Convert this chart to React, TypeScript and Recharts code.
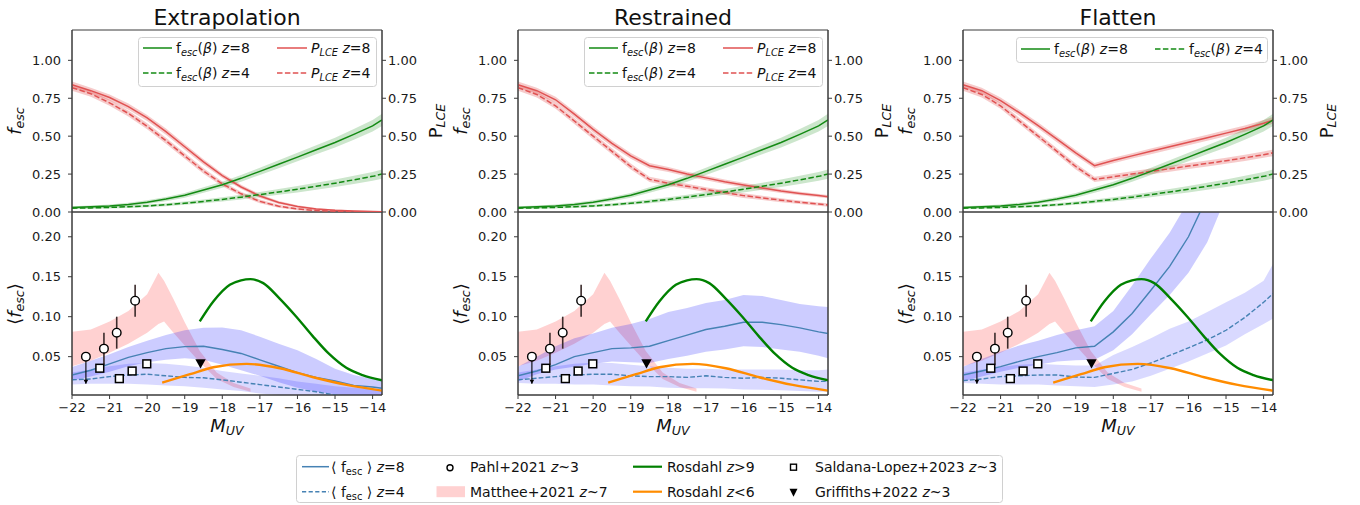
import React from 'react';
import { ComposedChart, Line, Area, Scatter, XAxis, YAxis, ErrorBar, ReferenceArea } from 'recharts';

// ---------------- DATA ----------------
const M_GRID = [-22, -21.5, -21, -20.5, -20, -19.5, -19, -18.5, -18, -17.5, -17, -16.5, -16, -15.5, -15, -14.5, -14, -13.75];

// top panels: f_esc(beta)
const FESC_Z8 = [0.03, 0.034, 0.04, 0.05, 0.065, 0.085, 0.11, 0.145, 0.18, 0.222, 0.268, 0.315, 0.362, 0.41, 0.458, 0.512, 0.568, 0.607];
const FESC_Z8_ERR = [0.008, 0.009, 0.01, 0.011, 0.012, 0.014, 0.016, 0.018, 0.02, 0.022, 0.024, 0.026, 0.028, 0.03, 0.032, 0.035, 0.038, 0.04];
const FESC_Z4 = [0.025, 0.027, 0.03, 0.035, 0.04, 0.048, 0.058, 0.07, 0.083, 0.098, 0.115, 0.132, 0.15, 0.17, 0.19, 0.212, 0.235, 0.25];
const FESC_Z4_ERR = [0.006, 0.006, 0.007, 0.008, 0.009, 0.01, 0.011, 0.012, 0.014, 0.015, 0.017, 0.019, 0.021, 0.023, 0.025, 0.027, 0.029, 0.03];

// top panels: P_LCE
const PLCE_Z8_EXTRAP = [0.84, 0.8, 0.755, 0.695, 0.62, 0.53, 0.43, 0.33, 0.24, 0.165, 0.105, 0.063, 0.037, 0.02, 0.011, 0.006, 0.003, 0.002];
const PLCE_Z4_EXTRAP = [0.82, 0.78, 0.72, 0.65, 0.565, 0.47, 0.37, 0.27, 0.185, 0.12, 0.07, 0.038, 0.02, 0.01, 0.005, 0.002, 0.001, 0.001];
const PLCE_ERR_EXTRAP = [0.02, 0.02, 0.02, 0.02, 0.02, 0.02, 0.019, 0.018, 0.016, 0.014, 0.012, 0.01, 0.008, 0.006, 0.005, 0.004, 0.003, 0.003];

const PLCE_Z8_RESTR = [0.84, 0.8, 0.74, 0.645, 0.545, 0.452, 0.37, 0.305, 0.28, 0.25, 0.225, 0.2, 0.178, 0.158, 0.138, 0.122, 0.108, 0.101];
const PLCE_Z4_RESTR = [0.82, 0.775, 0.7, 0.6, 0.5, 0.4, 0.3, 0.215, 0.19, 0.17, 0.148, 0.128, 0.108, 0.093, 0.078, 0.064, 0.052, 0.046];
const PLCE_ERR_RESTR = [0.02, 0.02, 0.02, 0.02, 0.02, 0.02, 0.019, 0.018, 0.017, 0.016, 0.016, 0.015, 0.015, 0.014, 0.013, 0.012, 0.011, 0.011];

const PLCE_Z8_FLAT = [0.84, 0.8, 0.735, 0.655, 0.57, 0.48, 0.39, 0.305, 0.34, 0.37, 0.4, 0.43, 0.46, 0.49, 0.52, 0.55, 0.585, 0.605];
const PLCE_Z4_FLAT = [0.82, 0.775, 0.7, 0.6, 0.5, 0.4, 0.3, 0.215, 0.232, 0.25, 0.268, 0.285, 0.303, 0.32, 0.338, 0.357, 0.378, 0.39];
const PLCE_ERR_FLAT = [0.02, 0.02, 0.02, 0.02, 0.02, 0.02, 0.019, 0.018, 0.018, 0.018, 0.019, 0.019, 0.02, 0.02, 0.02, 0.021, 0.021, 0.022];

// bottom panels: <f_esc> (z=8 solid, z=4 dashed) with bands
const B8_EXTRAP = [0.027, 0.033, 0.041, 0.049, 0.055, 0.06, 0.0625, 0.063, 0.059, 0.054, 0.046, 0.038, 0.03, 0.024, 0.0195, 0.014, 0.012, 0.0105];
const B8_LO_EXTRAP = [0.02, 0.025, 0.031, 0.038, 0.043, 0.046, 0.048, 0.046, 0.04, 0.033, 0.026, 0.018, 0.011, 0.006, 0.003, 0.001, 0, 0];
const B8_HI_EXTRAP = [0.037, 0.045, 0.053, 0.062, 0.07, 0.077, 0.083, 0.086, 0.0865, 0.083, 0.075, 0.066, 0.058, 0.047, 0.035, 0.027, 0.022, 0.021];
const B4_EXTRAP = [0.021, 0.022, 0.025, 0.027, 0.028, 0.026, 0.024, 0.0235, 0.021, 0.018, 0.015, 0.012, 0.009, 0.006, 0.002, 0, 0, 0];
const B4_LO_EXTRAP = [0.015, 0.016, 0.016, 0.016, 0.015, 0.014, 0.013, 0.011, 0.009, 0.007, 0.004, 0.002, 0, 0, 0, 0, 0, 0];
const B4_HI_EXTRAP = [0.03, 0.034, 0.038, 0.041, 0.042, 0.041, 0.039, 0.036, 0.032, 0.029, 0.026, 0.023, 0.019, 0.016, 0.013, 0.011, 0.009, 0.008];

const B8_RESTR = [0.026, 0.032, 0.04, 0.05, 0.055, 0.06, 0.061, 0.063, 0.07, 0.077, 0.084, 0.088, 0.093, 0.093, 0.09, 0.086, 0.081, 0.079];
const B8_LO_RESTR = [0.019, 0.028, 0.034, 0.0375, 0.041, 0.044, 0.043, 0.042, 0.047, 0.051, 0.056, 0.059, 0.063, 0.062, 0.059, 0.056, 0.051, 0.048];
const B8_HI_RESTR = [0.0375, 0.05, 0.063, 0.073, 0.079, 0.086, 0.091, 0.097, 0.106, 0.111, 0.117, 0.121, 0.127, 0.126, 0.121, 0.116, 0.113, 0.112];
const B4_RESTR = [0.021, 0.023, 0.025, 0.027, 0.028, 0.028, 0.026, 0.025, 0.025, 0.024, 0.026, 0.024, 0.023, 0.024, 0.023, 0.021, 0.019, 0.019];
const B4_LO_RESTR = [0.017, 0.016, 0.016, 0.015, 0.015, 0.014, 0.013, 0.0125, 0.011, 0.0105, 0.0105, 0.01, 0.009, 0.0085, 0.008, 0.007, 0.006, 0.006];
const B4_HI_RESTR = [0.03, 0.034, 0.038, 0.041, 0.0425, 0.042, 0.04, 0.038, 0.036, 0.035, 0.035, 0.034, 0.034, 0.034, 0.034, 0.033, 0.033, 0.034];

const B8_FLAT = [0.027, 0.032, 0.0375, 0.044, 0.05, 0.055, 0.061, 0.063, 0.081, 0.104, 0.133, 0.163, 0.2, 0.25, 0.3, 0.34, 0.38, 0.4];
const B8_LO_FLAT = [0.019, 0.025, 0.031, 0.036, 0.04, 0.044, 0.0455, 0.046, 0.058, 0.078, 0.103, 0.127, 0.155, 0.193, 0.25, 0.29, 0.33, 0.35];
const B8_HI_FLAT = [0.0375, 0.047, 0.056, 0.064, 0.07, 0.077, 0.083, 0.088, 0.107, 0.139, 0.173, 0.205, 0.245, 0.29, 0.33, 0.37, 0.41, 0.43];
const B4_FLAT = [0.02, 0.022, 0.025, 0.026, 0.027, 0.027, 0.0245, 0.024, 0.029, 0.034, 0.042, 0.0515, 0.061, 0.071, 0.083, 0.099, 0.118, 0.129];
const B4_LO_FLAT = [0.017, 0.016, 0.015, 0.015, 0.015, 0.014, 0.013, 0.012, 0.015, 0.019, 0.026, 0.035, 0.044, 0.054, 0.064, 0.078, 0.091, 0.0975];
const B4_HI_FLAT = [0.03, 0.034, 0.037, 0.04, 0.041, 0.04, 0.039, 0.039, 0.052, 0.062, 0.073, 0.085, 0.094, 0.106, 0.118, 0.13, 0.145, 0.166];

// Matthee+2021 band
const MATTHEE_M = [-22, -21.5, -21, -20.5, -20, -19.7, -19.55, -19.3, -19, -18.6, -18.15, -17.7, -17.25];
const MATTHEE_LO = [0.038, 0.045, 0.055, 0.066, 0.08, 0.091, 0.094, 0.08, 0.064, 0.043, 0.022, 0.012, 0.006];
const MATTHEE_HI = [0.081, 0.084, 0.094, 0.107, 0.128, 0.155, 0.145, 0.122, 0.093, 0.057, 0.03, 0.017, 0.01];

// Rosdahl curves
const ROS9_M = [-18.6, -18.24, -17.8, -17.5, -17.25, -16.91, -16.48, -16.03, -15.6, -15.15, -14.7, -14.27, -13.75];
const ROS9_F = [0.094, 0.119, 0.14, 0.1455, 0.147, 0.142, 0.123, 0.1, 0.076, 0.053, 0.036, 0.027, 0.0205];
const ROS6_M = [-19.6, -18.86, -18.24, -17.35, -16.47, -15.58, -14.69, -13.75];
const ROS6_F = [0.0175, 0.028, 0.0367, 0.041, 0.0355, 0.0242, 0.0146, 0.0075];

// observations
const PAHL_M = [-21.15, -20.81, -20.32];
const PAHL_F = [0.06, 0.08, 0.12];
const PAHL_ERR = [0.02, 0.02, 0.02];
const PAHL_UL_M = [-21.63];
const PAHL_UL_F = [0.05];
const PAHL_UL_TIP = [0.016];
const SALDANA_M = [-21.26, -20.74, -20.4, -20.01];
const SALDANA_F = [0.0355, 0.0225, 0.032, 0.041];
const GRIFFITHS_M = [-18.58];
const GRIFFITHS_F = [0.041];

// axes
const X_TICKS = [-22, -21, -20, -19, -18, -17, -16, -15, -14];
const X_DOMAIN = [-22, -13.75];
const TOP_Y_TICKS = [0, 0.25, 0.5, 0.75, 1.0];
const TOP_Y_DOMAIN = [0, 1.2];
const BOT_Y_TICKS = [0.05, 0.1, 0.15, 0.2];
const BOT_Y_DOMAIN = [0.002, 0.231];
const PANEL_TITLES = ['Extrapolation', 'Restrained', 'Flatten'];

// ---------------- STYLE ----------------
const FONT = "'DejaVu Sans', Verdana, sans-serif";
const SPINE = '#3a3a3a';
const GREEN = '#138a13';
const RED = '#e05252';
const BLUE_LINE = '#4682b4';
const BLUE_FILL = '#0000ff';
const ORANGE = '#ff8c00';
const ROS_GREEN = '#008000';
const TICK = { fontSize: 13, fill: '#1a1a1a', fontFamily: FONT };
const PLOT_LEFTS = [72, 518, 963];
const PLOT_W = 310;
const AXIS_W = 60;

const fmt2 = (v: number) => v.toFixed(2);
const fmtX = (v: number) => (v < 0 ? '\u2212' + Math.abs(v) : String(v));

const PANELS = [
  { title: PANEL_TITLES[0], r8: PLCE_Z8_EXTRAP, r4: PLCE_Z4_EXTRAP, rErr: PLCE_ERR_EXTRAP,
    b8: B8_EXTRAP, b8lo: B8_LO_EXTRAP, b8hi: B8_HI_EXTRAP, b4: B4_EXTRAP, b4lo: B4_LO_EXTRAP, b4hi: B4_HI_EXTRAP },
  { title: PANEL_TITLES[1], r8: PLCE_Z8_RESTR, r4: PLCE_Z4_RESTR, rErr: PLCE_ERR_RESTR,
    b8: B8_RESTR, b8lo: B8_LO_RESTR, b8hi: B8_HI_RESTR, b4: B4_RESTR, b4lo: B4_LO_RESTR, b4hi: B4_HI_RESTR },
  { title: PANEL_TITLES[2], r8: PLCE_Z8_FLAT, r4: PLCE_Z4_FLAT, rErr: PLCE_ERR_FLAT,
    b8: B8_FLAT, b8lo: B8_LO_FLAT, b8hi: B8_HI_FLAT, b4: B4_FLAT, b4lo: B4_LO_FLAT, b4hi: B4_HI_FLAT },
];

const mattheeRows = MATTHEE_M.map((m, i) => ({ m, band: [MATTHEE_LO[i], MATTHEE_HI[i]] }));
const ros9Rows = ROS9_M.map((m, i) => ({ m, f: ROS9_F[i] }));
const ros6Rows = ROS6_M.map((m, i) => ({ m, f: ROS6_F[i] }));
const pahlRows = PAHL_M.map((m, i) => ({ m, f: PAHL_F[i], err: PAHL_ERR[i] }));
const pahlUlRows = PAHL_UL_M.map((m, i) => ({ m, f: PAHL_UL_F[i], err: [PAHL_UL_F[i] - PAHL_UL_TIP[i], 0] }));
const pahlTipRows = PAHL_UL_M.map((m, i) => ({ m, f: PAHL_UL_TIP[i] }));
const saldanaRows = SALDANA_M.map((m, i) => ({ m, f: SALDANA_F[i] }));
const griffithsRows = GRIFFITHS_M.map((m, i) => ({ m, f: GRIFFITHS_F[i] }));

const CircleShape = (p: any) => <circle cx={p.cx} cy={p.cy} r={4.3} fill="#fff" stroke="#000" strokeWidth={1.4} />;
const SquareShape = (p: any) => <rect x={p.cx - 3.9} y={p.cy - 3.9} width={7.8} height={7.8} fill="#fff" stroke="#000" strokeWidth={1.5} />;
const TriShape = (p: any) => <path d={`M${p.cx - 5.2},${p.cy - 4.6}L${p.cx + 5.2},${p.cy - 4.6}L${p.cx},${p.cy + 4.6}Z`} fill="#000" />;
const ArrowHead = (p: any) => <path d={`M${p.cx - 2.3},${p.cy - 4}L${p.cx + 2.3},${p.cy - 4}L${p.cx},${p.cy}Z`} fill="#000" />;

function TopChart({ p, left }: any) {
  const rows = M_GRID.map((m, i) => ({
    m,
    g8: FESC_Z8[i], g8band: [FESC_Z8[i] - FESC_Z8_ERR[i], FESC_Z8[i] + FESC_Z8_ERR[i]],
    g4: FESC_Z4[i], g4band: [FESC_Z4[i] - FESC_Z4_ERR[i], FESC_Z4[i] + FESC_Z4_ERR[i]],
    r8: p.r8[i], r8band: [p.r8[i] - p.rErr[i], p.r8[i] + p.rErr[i]],
    r4: p.r4[i], r4band: [p.r4[i] - p.rErr[i], p.r4[i] + p.rErr[i]],
  }));
  return (
    <div style={{ position: 'absolute', left: left - AXIS_W, top: 0 }}>
      <ComposedChart width={PLOT_W + 2 * AXIS_W} height={222} data={rows} margin={{ top: 30, right: 0, bottom: 10, left: 0 }}>
        <XAxis dataKey="m" type="number" domain={X_DOMAIN} allowDataOverflow height={0} tick={false} tickLine={false} axisLine={{ stroke: SPINE }} />
        <XAxis xAxisId="top" orientation="top" dataKey="m" type="number" domain={X_DOMAIN} allowDataOverflow height={0} tick={false} tickLine={false} axisLine={{ stroke: SPINE }} />
        <YAxis type="number" domain={TOP_Y_DOMAIN} ticks={TOP_Y_TICKS} interval={0} allowDataOverflow width={AXIS_W} tickFormatter={fmt2} tick={TICK} tickSize={4} tickMargin={7} tickLine={{ stroke: SPINE }} axisLine={{ stroke: SPINE }} />
        <YAxis yAxisId="r" orientation="right" type="number" domain={TOP_Y_DOMAIN} ticks={TOP_Y_TICKS} interval={0} allowDataOverflow width={AXIS_W} tickFormatter={fmt2} tick={TICK} tickSize={4} tickMargin={2} tickLine={{ stroke: SPINE }} axisLine={{ stroke: SPINE }} />
        <Area yAxisId="r" dataKey="r8band" type="linear" stroke="none" fill={RED} fillOpacity={0.3} isAnimationActive={false} />
        <Area yAxisId="r" dataKey="r4band" type="linear" stroke="none" fill={RED} fillOpacity={0.3} isAnimationActive={false} />
        <Area dataKey="g8band" type="linear" stroke="none" fill="#008000" fillOpacity={0.2} isAnimationActive={false} />
        <Area dataKey="g4band" type="linear" stroke="none" fill="#008000" fillOpacity={0.2} isAnimationActive={false} />
        <Line yAxisId="r" dataKey="r8" type="linear" stroke={RED} strokeWidth={1.5} dot={false} activeDot={false} isAnimationActive={false} />
        <Line yAxisId="r" dataKey="r4" type="linear" stroke={RED} strokeWidth={1.5} strokeDasharray="5.5 2.4" dot={false} activeDot={false} isAnimationActive={false} />
        <Line dataKey="g8" type="linear" stroke={GREEN} strokeWidth={1.5} dot={false} activeDot={false} isAnimationActive={false} />
        <Line dataKey="g4" type="linear" stroke={GREEN} strokeWidth={1.5} strokeDasharray="5.5 2.4" dot={false} activeDot={false} isAnimationActive={false} />
        <ReferenceArea x1={X_DOMAIN[0]} x2={X_DOMAIN[1]} y1={TOP_Y_DOMAIN[0]} y2={TOP_Y_DOMAIN[1]} fill="none" fillOpacity={0} stroke={SPINE} strokeWidth={1} ifOverflow="visible" />
      </ComposedChart>
    </div>
  );
}

function BottomChart({ p, left }: any) {
  const rows = M_GRID.map((m, i) => ({
    m, b8: p.b8[i], b8band: [p.b8lo[i], p.b8hi[i]], b4: p.b4[i], b4band: [p.b4lo[i], p.b4hi[i]],
  }));
  return (
    <div style={{ position: 'absolute', left: left - AXIS_W, top: 202 }}>
      <ComposedChart width={PLOT_W + 2 * AXIS_W} height={233} data={rows} margin={{ top: 10, right: 0, bottom: 0, left: 0 }}>
        <XAxis dataKey="m" type="number" domain={X_DOMAIN} ticks={X_TICKS} interval={0} allowDataOverflow height={40} tickFormatter={fmtX} tick={TICK} tickSize={4} tickMargin={4} tickLine={{ stroke: SPINE }} axisLine={{ stroke: SPINE }} />
        <XAxis xAxisId="top" orientation="top" dataKey="m" type="number" domain={X_DOMAIN} allowDataOverflow height={0} tick={false} tickLine={false} axisLine={{ stroke: SPINE }} />
        <YAxis type="number" domain={BOT_Y_DOMAIN} ticks={BOT_Y_TICKS} interval={0} allowDataOverflow width={AXIS_W} tickFormatter={fmt2} tick={TICK} tickSize={4} tickMargin={7} tickLine={{ stroke: SPINE }} axisLine={{ stroke: SPINE }} />
        <YAxis yAxisId="r" orientation="right" type="number" domain={BOT_Y_DOMAIN} allowDataOverflow width={AXIS_W} tick={false} tickLine={false} axisLine={{ stroke: SPINE }} />
        <Area data={mattheeRows} dataKey="band" type="linear" stroke="none" fill="#ff0000" fillOpacity={0.18} isAnimationActive={false} />
        <Area dataKey="b8band" type="linear" stroke="none" fill={BLUE_FILL} fillOpacity={0.2} isAnimationActive={false} />
        <Area dataKey="b4band" type="linear" stroke="none" fill={BLUE_FILL} fillOpacity={0.15} isAnimationActive={false} />
        <Line dataKey="b8" type="linear" stroke={BLUE_LINE} strokeWidth={1.4} dot={false} activeDot={false} isAnimationActive={false} />
        <Line dataKey="b4" type="linear" stroke={BLUE_LINE} strokeWidth={1.4} strokeDasharray="4.8 2.1" dot={false} activeDot={false} isAnimationActive={false} />
        <Line data={ros9Rows} dataKey="f" type="monotone" stroke={ROS_GREEN} strokeWidth={2.4} dot={false} activeDot={false} isAnimationActive={false} />
        <Line data={ros6Rows} dataKey="f" type="monotone" stroke={ORANGE} strokeWidth={2.4} dot={false} activeDot={false} isAnimationActive={false} />
        <Scatter data={pahlUlRows} dataKey="f" shape={CircleShape} isAnimationActive={false}>
          <ErrorBar dataKey="err" direction="y" width={0} stroke="#000" strokeWidth={1.1} />
        </Scatter>
        <Scatter data={pahlTipRows} dataKey="f" shape={ArrowHead} isAnimationActive={false} />
        <Scatter data={pahlRows} dataKey="f" shape={CircleShape} isAnimationActive={false}>
          <ErrorBar dataKey="err" direction="y" width={0} stroke="#3b2b2b" strokeWidth={1.6} />
        </Scatter>
        <Scatter data={saldanaRows} dataKey="f" shape={SquareShape} isAnimationActive={false} />
        <Scatter data={griffithsRows} dataKey="f" shape={TriShape} isAnimationActive={false} />
        <ReferenceArea x1={X_DOMAIN[0]} x2={X_DOMAIN[1]} y1={BOT_Y_DOMAIN[0]} y2={BOT_Y_DOMAIN[1]} fill="none" fillOpacity={0} stroke={SPINE} strokeWidth={1} ifOverflow="visible" />
      </ComposedChart>
    </div>
  );
}

const FescSub = () => (
  <>
    <tspan fontStyle="italic">f</tspan>
    <tspan fontStyle="italic" fontSize={12.6} dy={3}>esc</tspan>
  </>
);

function TopLegend({ left, twoCols }: any) {
  const w = twoCols ? 238 : 251;
  const h = twoCols ? 49 : 25;
  const rowsY = twoCols ? [11, 36] : [12];
  const fescText = (z: string) => (
    <>
      <tspan>f</tspan>
      <tspan fontStyle="italic" fontSize={9.8} dy={3}>esc</tspan>
      <tspan dy={-3}>(</tspan>
      <tspan fontStyle="italic">β</tspan>
      <tspan>) </tspan>
      <tspan fontStyle="italic">z</tspan>
      <tspan>={z}</tspan>
    </>
  );
  const plceText = (z: string) => (
    <>
      <tspan fontStyle="italic">P</tspan>
      <tspan fontStyle="italic" fontSize={9.8} dy={3}>LCE</tspan>
      <tspan dy={-3}> </tspan>
      <tspan fontStyle="italic">z</tspan>
      <tspan>={z}</tspan>
    </>
  );
  return (
    <svg style={{ position: 'absolute', left, top: 37 }} width={w + 2} height={h + 2}>
      <rect x={0.5} y={0.5} width={w} height={h} rx={3} fill="rgba(255,255,255,0.85)" stroke="#d0d0d0" />
      <g fontFamily={FONT} fontSize={14} fill="#111" style={{ whiteSpace: 'pre' }}>
        {twoCols ? (
          <>
            <line x1={5} x2={34} y1={rowsY[0]} y2={rowsY[0]} stroke={GREEN} strokeWidth={1.5} />
            <text x={38} y={rowsY[0] + 4.5}>{fescText('8')}</text>
            <line x1={139} x2={169} y1={rowsY[0]} y2={rowsY[0]} stroke={RED} strokeWidth={1.5} />
            <text x={173} y={rowsY[0] + 4.5}>{plceText('8')}</text>
            <line x1={5} x2={34} y1={rowsY[1]} y2={rowsY[1]} stroke={GREEN} strokeWidth={1.5} strokeDasharray="5.5 2.4" />
            <text x={38} y={rowsY[1] + 4.5}>{fescText('4')}</text>
            <line x1={139} x2={169} y1={rowsY[1]} y2={rowsY[1]} stroke={RED} strokeWidth={1.5} strokeDasharray="5.5 2.4" />
            <text x={173} y={rowsY[1] + 4.5}>{plceText('4')}</text>
          </>
        ) : (
          <>
            <line x1={5} x2={34} y1={rowsY[0]} y2={rowsY[0]} stroke={GREEN} strokeWidth={1.5} />
            <text x={38} y={rowsY[0] + 4.5}>{fescText('8')}</text>
            <line x1={139} x2={169} y1={rowsY[0]} y2={rowsY[0]} stroke={GREEN} strokeWidth={1.5} strokeDasharray="5.5 2.4" />
            <text x={173} y={rowsY[0] + 4.5}>{fescText('4')}</text>
          </>
        )}
      </g>
    </svg>
  );
}

function BottomLegend() {
  const r1 = 11.7;
  const r2 = 36.7;
  const meanText = (z: string) => (
    <>
      <tspan>⟨ f</tspan>
      <tspan fontSize={9.8} dy={3}>esc</tspan>
      <tspan dy={-3}> ⟩ </tspan>
      <tspan fontStyle="italic">z</tspan>
      <tspan>={z}</tspan>
    </>
  );
  const zt = (pre: string, post: string) => (
    <>
      <tspan>{pre}</tspan>
      <tspan fontStyle="italic">z</tspan>
      <tspan>{post}</tspan>
    </>
  );
  return (
    <svg style={{ position: 'absolute', left: 296, top: 455 }} width={710} height={50}>
      <rect x={0.5} y={0.5} width={706} height={47} rx={3} fill="#fff" stroke="#d0d0d0" />
      <g fontFamily={FONT} fontSize={14} fill="#111" style={{ whiteSpace: 'pre' }}>
        <line x1={6} x2={33} y1={r1} y2={r1} stroke={BLUE_LINE} strokeWidth={1.5} />
        <text x={35} y={r1 + 5}>{meanText('8')}</text>
        <line x1={6} x2={33} y1={r2} y2={r2} stroke={BLUE_LINE} strokeWidth={1.5} strokeDasharray="4.2 2.4" />
        <text x={35} y={r2 + 5}>{meanText('4')}</text>

        <circle cx={154} cy={r1 + 1} r={3} fill="#fff" stroke="#000" strokeWidth={1.4} />
        <text x={174} y={r1 + 5}>{zt('Pahl+2021 ', '~3')}</text>
        <rect x={140.5} y={r2 - 5.5} width={28.5} height={11} fill="#ff0000" fillOpacity={0.18} />
        <text x={174} y={r2 + 5}>{zt('Matthee+2021 ', '~7')}</text>

        <line x1={337} x2={366} y1={r1} y2={r1} stroke={ROS_GREEN} strokeWidth={2.2} />
        <text x={371} y={r1 + 5}>{zt('Rosdahl ', '>9')}</text>
        <line x1={337} x2={366} y1={r2} y2={r2} stroke={ORANGE} strokeWidth={2.2} />
        <text x={371} y={r2 + 5}>{zt('Rosdahl ', '<6')}</text>

        <rect x={494.5} y={r1 - 2.5} width={6} height={6} fill="#fff" stroke="#000" strokeWidth={1.4} />
        <text x={519} y={r1 + 5}>{zt('Saldana-Lopez+2023 ', '~3')}</text>
        <path d={`M${493.5},${r2 - 3}L${501.5},${r2 - 3}L${497.5},${r2 + 5}Z`} fill="#000" />
        <text x={519} y={r2 + 5}>{zt('Griffiths+2022 ', '~3')}</text>
      </g>
    </svg>
  );
}

function Labels() {
  return (
    <svg style={{ position: 'absolute', left: 0, top: 0, pointerEvents: 'none' }} width={1360} height={505}>
      <g fontFamily={FONT} fill="#111">
        {PLOT_LEFTS.map((pl, i) => (
          <g key={i}>
            <text x={pl + PLOT_W / 2} y={25} fontSize={22} textAnchor="middle">{PANELS[i].title}</text>
            <text transform={`translate(${pl - 51},121) rotate(-90)`} fontSize={18} textAnchor="middle">
              <FescSub />
            </text>
            <text transform={`translate(${pl - 51},304) rotate(-90)`} fontSize={18} textAnchor="middle">
              <tspan>⟨</tspan>
              <tspan fontStyle="italic">f</tspan>
              <tspan fontStyle="italic" fontSize={12.6} dy={3}>esc</tspan>
              <tspan dy={-3}>⟩</tspan>
            </text>
            <text transform={`translate(${pl + PLOT_W + 60},121) rotate(-90)`} fontSize={18} textAnchor="middle">
              <tspan>P</tspan>
              <tspan fontStyle="italic" fontSize={12.6} dy={3}>LCE</tspan>
            </text>
            <text x={pl + PLOT_W / 2} y={432} fontSize={18} textAnchor="middle">
              <tspan fontStyle="italic">M</tspan>
              <tspan fontStyle="italic" fontSize={12.6} dy={3}>UV</tspan>
            </text>
          </g>
        ))}
      </g>
    </svg>
  );
}

export default function App() {
  return (
    <div style={{ position: 'absolute', left: 0, top: 0, width: 1360, height: 505, background: '#fff', fontFamily: FONT }}>
      {PANELS.map((p, i) => (
        <React.Fragment key={i}>
          <BottomChart p={p} left={PLOT_LEFTS[i]} />
          <TopChart p={p} left={PLOT_LEFTS[i]} />
        </React.Fragment>
      ))}
      <TopLegend left={PLOT_LEFTS[0] + 66} twoCols />
      <TopLegend left={PLOT_LEFTS[1] + 66} twoCols />
      <TopLegend left={PLOT_LEFTS[2] + 53} twoCols={false} />
      <BottomLegend />
      <Labels />
    </div>
  );
}
